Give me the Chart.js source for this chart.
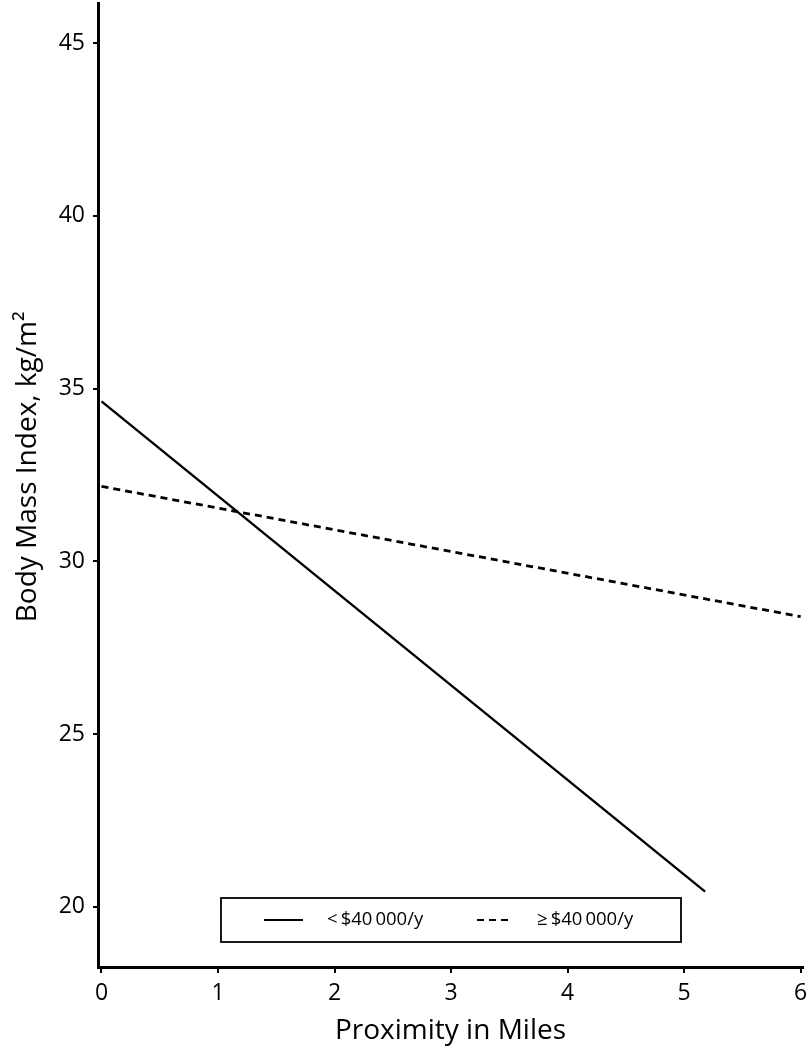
<!DOCTYPE html>
<html>
<head>
<meta charset="utf-8">
<script src="https://cdn.jsdelivr.net/npm/chart.js@4"></script>
<style>
  html, body { margin: 0; padding: 0; background: #fff; }
  #wrap { width: 808px; height: 1049px; position: relative; }
</style>
</head>
<body>
<div id="wrap"><canvas id="bmiChart"></canvas></div>
<script>
// Fitted lines (proximity in miles -> BMI)
const lowIncomeLabel = '<\u2009$40\u2009000/y';
const highIncomeLabel = '\u2265\u2009$40\u2009000/y';
const lowIncomeX = [0, 5.18];
const lowIncomeY = [34.63, 20.44];
const highIncomeX = [0, 6];
const highIncomeY = [32.17, 28.4];
const xTicks = [0, 1, 2, 3, 4, 5, 6];
const yTicks = [20, 25, 30, 35, 40, 45];

const FONT = "'Open Sans', 'Noto Sans', sans-serif";

const toPoints = (xs, ys) => xs.map((x, i) => ({ x: x, y: ys[i] }));

// chart.js reserves room for half a tick label at the axis ends; the figure doesn't
const noEdgePadding = (scale) => {
  scale.paddingTop = 0;
  scale.paddingBottom = 0;
  scale.paddingLeft = 0;
  scale.paddingRight = 0;
};

// boxed legend sitting inside the plot, like the original figure
const boxedLegend = {
  id: 'boxedLegend',
  afterDraw(chart) {
    const ctx = chart.ctx;
    ctx.save();
    ctx.strokeStyle = '#000';
    ctx.lineWidth = 1.8;
    ctx.strokeRect(221, 898, 460, 44);

    const items = [
      { sx: 264, ex: 303, tx: 327 },
      { sx: 477, ex: 513, tx: 537 }
    ];
    chart.data.datasets.forEach((ds, i) => {
      const it = items[i];
      const y = 920;
      ctx.beginPath();
      ctx.setLineDash(ds.borderDash || []);
      ctx.lineWidth = 2;
      ctx.strokeStyle = ds.borderColor;
      ctx.moveTo(it.sx, y);
      ctx.lineTo(it.ex, y);
      ctx.stroke();
      ctx.setLineDash([]);
      ctx.fillStyle = '#000';
      ctx.font = '18.5px ' + FONT;
      ctx.textBaseline = 'middle';
      ctx.fillText(ds.label, it.tx, y);
    });
    ctx.restore();
  }
};

new Chart(document.getElementById('bmiChart'), {
  type: 'line',
  data: {
    datasets: [
      {
        label: lowIncomeLabel,
        data: toPoints(lowIncomeX, lowIncomeY),
        borderColor: '#000',
        borderWidth: 2.4,
        pointRadius: 0,
        fill: false
      },
      {
        label: highIncomeLabel,
        data: toPoints(highIncomeX, highIncomeY),
        borderColor: '#000',
        borderWidth: 2.8,
        borderDash: [7, 5],
        pointRadius: 0,
        fill: false
      }
    ]
  },
  options: {
    responsive: true,
    maintainAspectRatio: false,
    animation: false,
    layout: { padding: { top: 3, right: 5, left: 0, bottom: 0 } },
    plugins: {
      legend: { display: false },
      tooltip: { enabled: false }
    },
    scales: {
      x: {
        type: 'linear',
        min: -0.03,
        max: 6.02,
        border: { display: true, color: '#000', width: 3 },
        grid: { display: true, drawOnChartArea: false, drawTicks: true, tickLength: 6, color: '#000', lineWidth: 2 },
        afterBuildTicks: (scale) => { scale.ticks = xTicks.map(v => ({ value: v })); },
        ticks: { color: '#000', font: { family: FONT, size: 23 }, padding: 7, maxRotation: 0 },
        title: {
          display: true,
          text: 'Proximity in Miles',
          color: '#000',
          font: { family: FONT, size: 28 },
          padding: { top: 0, bottom: 1 }
        },
        afterFit: (scale) => { scale.height = 82; noEdgePadding(scale); }
      },
      y: {
        type: 'linear',
        min: 18.26,
        max: 46.16,
        border: { display: true, color: '#000', width: 3 },
        grid: { display: true, drawOnChartArea: false, drawTicks: true, tickLength: 5, color: '#000', lineWidth: 2 },
        afterBuildTicks: (scale) => { scale.ticks = yTicks.map(v => ({ value: v })); },
        ticks: { color: '#000', font: { family: FONT, size: 23 }, padding: 8 },
        title: {
          display: true,
          // leading spaces nudge the rotated title up, as in the original
          text: '     Body Mass Index, kg/m\u00B2',
          color: '#000',
          font: { family: FONT, size: 28 },
          padding: { top: 11, bottom: 0 }
        },
        afterFit: (scale) => { scale.width = 98; noEdgePadding(scale); }
      }
    }
  },
  plugins: [boxedLegend]
});
</script>
</body>
</html>
